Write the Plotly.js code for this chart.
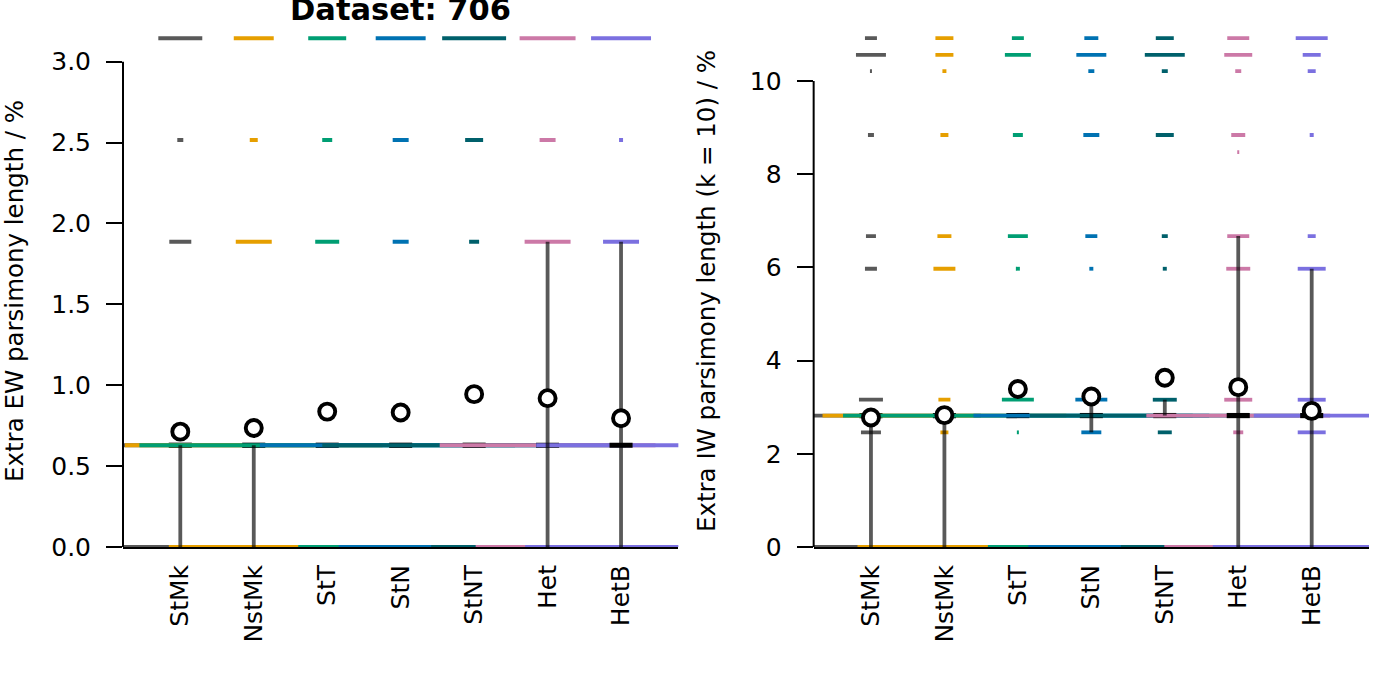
<!DOCTYPE html>
<html>
<head>
<meta charset="utf-8">
<script src="https://cdn.plot.ly/plotly-3.0.1.min.js"></script>
<style>
  html, body { margin: 0; padding: 0; background: #fff; }
  #plot { width: 1382px; height: 691px; }
</style>
</head>
<body>
<div id="plot"></div>
<script>
// methods, one column each
const categories = ["StMk", "NstMk", "StT", "StN", "StNT", "Het", "HetB"];
const colours = ["#595959", "#E69F00", "#009E73", "#0072B2", "#00606B", "#CC79A7", "#7B70E0"];

// EW panel: score levels and number of trees at each level
const ewLevels = [0, 0.629, 1.887, 2.516, 3.145];
const ewCounts = [
  [75, 134, 11, 3, 22],
  [85, 129, 18, 4, 20],
  [29, 188, 12, 5, 19],
  [62, 141, 8, 8, 25],
  [43, 152, 5, 9, 32],
  [72, 108, 23, 8, 28],
  [96, 85, 18, 2, 30]
];
const ewMedian = [0.629, 0.629, 0.629, 0.629, 0.629, 0.629, 0.629];
const ewMean = [0.713, 0.736, 0.837, 0.831, 0.945, 0.920, 0.796];
const ewLow = [0, 0, 0.629, 0.629, 0.629, 0, 0];
const ewHigh = [0.629, 0.629, 0.629, 0.629, 0.629, 1.887, 1.887];
const ewTicks = [0, 0.5, 1, 1.5, 2, 2.5, 3];

// IW (k = 10) panel
const iwLevels = [0, 2.46, 2.82, 3.16, 5.97, 6.67, 8.47, 8.84, 10.21, 10.56, 10.92];
const iwCounts = [
  [77, 10, 110, 12, 6, 5, 0, 3, 1, 15, 6],
  [87, 4, 122, 6, 11, 7, 0, 4, 2, 9, 9],
  [30, 1, 175, 16, 2, 10, 0, 5, 0, 13, 6],
  [63, 10, 118, 16, 2, 6, 0, 8, 3, 15, 7],
  [44, 7, 135, 12, 2, 3, 0, 9, 3, 20, 9],
  [74, 5, 92, 14, 12, 11, 1, 7, 3, 14, 11],
  [99, 14, 58, 14, 14, 4, 0, 2, 4, 9, 16]
];
const iwMedian = [2.82, 2.82, 2.82, 2.82, 2.82, 2.82, 2.82];
const iwMean = [2.78, 2.83, 3.39, 3.23, 3.63, 3.43, 2.92];
const iwLow = [0, 0, 2.82, 2.46, 2.82, 0, 0];
const iwHigh = [2.82, 2.82, 2.82, 3.16, 3.16, 6.67, 5.97];
const iwTicks = [0, 2, 4, 6, 8, 10];

const FONT = "DejaVu Sans";
const UNIT = 0.0272;   // x-width of one tree
const MED_HALF = 0.157;

function panelTraces(levels, counts, median, mean, low, high, xa, ya) {
  const traces = [];
  categories.forEach((cat, i) => {
    const c = i + 1;
    const xs = [], ys = [];
    levels.forEach((v, j) => {
      const n = counts[i][j];
      if (!n) return;
      xs.push(c - n * UNIT / 2, c + n * UNIT / 2, null);
      ys.push(v, v, null);
    });
    traces.push({
      x: xs, y: ys, xaxis: xa, yaxis: ya, mode: "lines", type: "scatter",
      line: { color: colours[i], width: 3.8 }, hoverinfo: "skip", showlegend: false
    });
    traces.push({
      x: [c - MED_HALF, c + MED_HALF], y: [median[i], median[i]],
      xaxis: xa, yaxis: ya, mode: "lines", type: "scatter",
      line: { color: "#000", width: 5.2 }, hoverinfo: "skip", showlegend: false
    });
  });

  // interval lines
  const vx = [], vy = [];
  categories.forEach((cat, i) => {
    if (high[i] > low[i]) {
      vx.push(i + 1, i + 1, null);
      vy.push(low[i], high[i], null);
    }
  });
  traces.push({
    x: vx, y: vy, xaxis: xa, yaxis: ya, mode: "lines", type: "scatter",
    line: { color: "rgba(0,0,0,0.65)", width: 3.8 }, hoverinfo: "skip", showlegend: false
  });

  // means
  traces.push({
    x: categories.map((c, i) => i + 1), y: mean, xaxis: xa, yaxis: ya,
    mode: "markers", type: "scatter", cliponaxis: false,
    marker: { symbol: "circle", size: 16, color: "#fff", line: { color: "#000", width: 3.9 } },
    showlegend: false
  });
  return traces;
}

const data = [].concat(
  panelTraces(ewLevels, ewCounts, ewMedian, ewMean, ewLow, ewHigh, "x", "y"),
  panelTraces(iwLevels, iwCounts, iwMedian, iwMean, iwLow, iwHigh, "x2", "y2")
);

const xCommon = {
  range: [0.22, 7.78],
  tickvals: categories.map((c, i) => i + 1),
  ticktext: categories,
  tickangle: -90,
  ticks: "",
  ticklabelstandoff: 6,
  showline: true, linecolor: "#000", linewidth: 2,
  showgrid: false, zeroline: false,
  tickfont: { family: FONT, size: 25, color: "#000" }
};
const yCommon = {
  ticks: "outside", ticklen: 16, tickwidth: 2, tickcolor: "#000",
  ticklabelstandoff: 10,
  showline: false, showgrid: false, zeroline: false,
  tickfont: { family: FONT, size: 25, color: "#000" }
};

const layout = {
  width: 1382, height: 691,
  margin: { l: 123, r: 13, t: 35, b: 144 },
  paper_bgcolor: "#fff", plot_bgcolor: "#fff",
  font: { family: FONT, color: "#000" },
  title: {
    text: "<b>Dataset: 706</b>",
    font: { family: FONT, size: 30.5, color: "#000" },
    x: 0.2898, xanchor: "center", y: 0.986, yanchor: "middle"
  },
  xaxis: Object.assign({}, xCommon, { domain: [0, 0.4457], anchor: "y" }),
  xaxis2: Object.assign({}, xCommon, { domain: [0.5543, 1], anchor: "y2" }),
  yaxis: Object.assign({}, yCommon, {
    anchor: "x", range: [0, 3.165], tickvals: ewTicks, tickformat: ".1f",
    title: { text: "Extra EW parsimony length / %", font: { family: FONT, size: 24.5 }, standoff: 20 }
  }),
  yaxis2: Object.assign({}, yCommon, {
    anchor: "x2", range: [0, 10.985], tickvals: iwTicks,
    title: { text: "Extra IW parsimony length (k = 10) / %", font: { family: FONT, size: 24.5 }, standoff: 27 }
  }),
  // y axis lines run only between the first and last tick
  shapes: [
    { type: "line", xref: "paper", yref: "paper", x0: 0, x1: 0, y0: 0, y1: 3 / 3.165,
      line: { color: "#000", width: 2 } },
    { type: "line", xref: "paper", yref: "paper", x0: 0.5543, x1: 0.5543, y0: 0, y1: 10 / 10.985,
      line: { color: "#000", width: 2 } }
  ]
};

Plotly.newPlot("plot", data, layout, { displayModeBar: false, staticPlot: true });
</script>
</body>
</html>
